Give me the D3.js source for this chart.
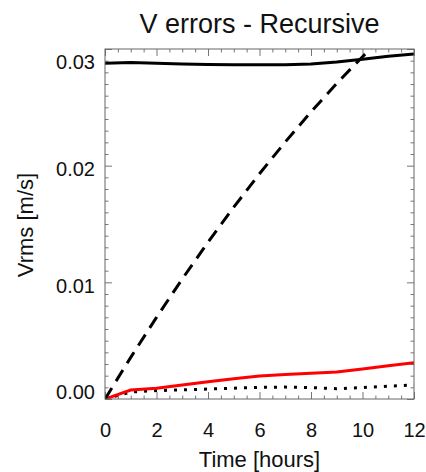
<!DOCTYPE html>
<html>
<head>
<meta charset="utf-8">
<script src="https://cdn.jsdelivr.net/npm/d3@7"></script>
<style>
  body { margin: 0; background: #fff; }
  svg text { font-family: "Liberation Sans", Arial, Helvetica, sans-serif; fill: #111; }
  .axis path.domain { display: none; }
  .axis line { stroke: #777; stroke-width: 1; }
</style>
</head>
<body>
<div id="chart"></div>
<script>
// hours
var hours = [0,1,2,3,4,5,6,7,8,9,10,11,12];
// black solid
var solidBlack = [0.02878,0.02885,0.02878,0.02872,0.02868,0.02866,0.02865,0.02866,0.02872,0.02888,0.02912,0.02937,0.02957];
// black dashed
var dashedBlack = [0,0.00357,0.00700,0.01029,0.01344,0.01644,0.01931,0.02203,0.02461,0.02705,0.02934,0.0315,0.0335];
// red solid
var redSolid = [0,0.00077,0.00092,0.0012,0.00148,0.00173,0.00197,0.0021,0.0022,0.00232,0.00258,0.00285,0.00311];
// black dotted
var dottedBlack = [0,0.0006,0.00072,0.00078,0.00085,0.00093,0.001,0.00102,0.00098,0.00088,0.00098,0.0011,0.0012];

var xMajor = [0,2,4,6,8,10,12];
var yMajor = [0,0.01,0.02,0.03];

var W = 426, H = 472;
var pLeft = 105, pRight = 414, pTop = 49, pBottom = 399;

var x = d3.scaleLinear().domain([0,12]).range([pLeft,pRight]);
var y = d3.scaleLinear().domain([0,0.03]).range([pBottom,pTop]);

var svg = d3.select("#chart").append("svg")
    .attr("width", W).attr("height", H);

svg.append("defs").append("clipPath").attr("id","plot")
   .append("rect").attr("x",pLeft).attr("y",pTop)
   .attr("width",pRight-pLeft).attr("height",pBottom-pTop);

var xMinor = d3.range(0,12.01,0.5).filter(function(d){ return d % 2 !== 0; });
var yMinor = d3.range(0,31).map(function(i){ return i/1000; }).filter(function(d,i){ return i % 10 !== 0; });

// bottom axis
svg.append("g").attr("class","axis")
   .attr("transform","translate(0,"+pBottom+")")
   .call(d3.axisBottom(x).tickValues(xMajor).tickSize(-7).tickSizeOuter(0).tickPadding(24).tickFormat(d3.format("d")))
   .selectAll("text").style("font-size","20px").attr("fill","#111");
svg.append("g").attr("class","axis")
   .attr("transform","translate(0,"+pBottom+")")
   .call(d3.axisBottom(x).tickValues(xMinor).tickSize(-3.5).tickSizeOuter(0).tickFormat(""));
// top axis
svg.append("g").attr("class","axis")
   .attr("transform","translate(0,"+pTop+")")
   .call(d3.axisTop(x).tickValues(xMajor).tickSize(-7).tickSizeOuter(0).tickFormat(""));
svg.append("g").attr("class","axis")
   .attr("transform","translate(0,"+pTop+")")
   .call(d3.axisTop(x).tickValues(xMinor).tickSize(-3.5).tickSizeOuter(0).tickFormat(""));

// left axis
svg.append("g").attr("class","axis")
   .attr("transform","translate("+pLeft+",0)")
   .call(d3.axisLeft(y).tickValues(yMajor).tickSize(-7).tickSizeOuter(0).tickPadding(10).tickFormat(d3.format(".2f")))
   .selectAll("text").style("font-size","20px").attr("fill","#111")
   .attr("y", function(d){
      var p = y(d);
      var c = Math.min(Math.max(p+3.5, pTop+13), pBottom-7);
      return c - p;
   });
svg.append("g").attr("class","axis")
   .attr("transform","translate("+pLeft+",0)")
   .call(d3.axisLeft(y).tickValues(yMinor).tickSize(-3.5).tickSizeOuter(0).tickFormat(""));
// right axis
svg.append("g").attr("class","axis")
   .attr("transform","translate("+pRight+",0)")
   .call(d3.axisRight(y).tickValues(yMajor).tickSize(-7).tickSizeOuter(0).tickFormat(""));
svg.append("g").attr("class","axis")
   .attr("transform","translate("+pRight+",0)")
   .call(d3.axisRight(y).tickValues(yMinor).tickSize(-3.5).tickSizeOuter(0).tickFormat(""));

// series
function series(vals){
  return hours.map(function(h,i){ return [h, vals[i]]; });
}
var line = d3.line()
    .x(function(d){ return x(d[0]); })
    .y(function(d){ return y(d[1]); });

var plot = svg.append("g").attr("clip-path","url(#plot)");

plot.append("path").datum(series(dottedBlack))
    .attr("fill","none").attr("stroke","#000").attr("stroke-width",3)
    .attr("stroke-dasharray","3,7").attr("d", line);
plot.append("path").datum(series(redSolid))
    .attr("fill","none").attr("stroke","#ff0000").attr("stroke-width",3)
    .attr("d", line);
plot.append("path").datum(series(dashedBlack))
    .attr("fill","none").attr("stroke","#000").attr("stroke-width",3)
    .attr("stroke-dasharray","13,8").attr("d", line);
plot.append("path").datum(series(solidBlack))
    .attr("fill","none").attr("stroke","#000").attr("stroke-width",3)
    .attr("d", line);

// frame
svg.append("rect")
   .attr("x",pLeft).attr("y",pTop)
   .attr("width",pRight-pLeft).attr("height",pBottom-pTop)
   .attr("fill","none").attr("stroke","#666").attr("stroke-width",1);

// title and labels
svg.append("text")
   .attr("x",(pLeft+pRight)/2).attr("y",33)
   .attr("text-anchor","middle")
   .style("font-size","27px")
   .text("V errors - Recursive");

svg.append("text")
   .attr("x",(pLeft+pRight)/2).attr("y",467)
   .attr("text-anchor","middle")
   .style("font-size","22px")
   .text("Time [hours]");

svg.append("text")
   .attr("transform","translate(33,225) rotate(-90)")
   .attr("text-anchor","middle")
   .style("font-size","22px")
   .text("Vrms [m/s]");
</script>
</body>
</html>
